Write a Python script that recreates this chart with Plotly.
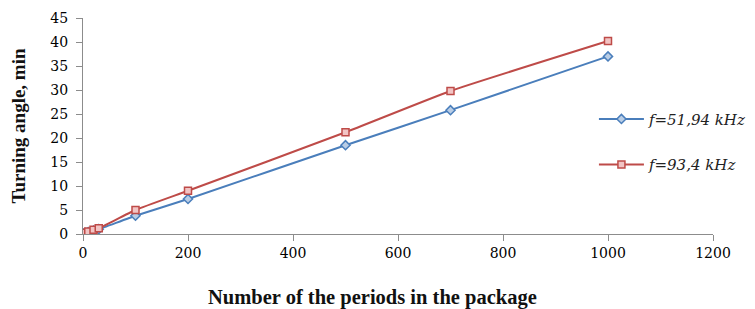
import plotly.graph_objects as go

periods = [1, 2, 5, 10, 20, 30, 100, 200, 500, 700, 1000]
angle_51 = [0.05, 0.1, 0.2, 0.4, 0.7, 1.0, 3.8, 7.3, 18.5, 25.8, 37.0]
angle_93 = [0.05, 0.1, 0.25, 0.5, 0.9, 1.2, 5.0, 9.0, 21.2, 29.8, 40.2]
name_51 = "f=51,94 kHz"
name_93 = "f=93,4 kHz"
x_ticks = [0, 200, 400, 600, 800, 1000, 1200]
y_ticks = [0, 5, 10, 15, 20, 25, 30, 35, 40, 45]

fig = go.Figure()
fig.add_trace(go.Scatter(
    x=periods, y=angle_51, name=name_51, mode="lines+markers",
    legendgroup="a",
    line=dict(color="#4A7EBB", width=2, shape="spline", smoothing=0.4),
    marker=dict(symbol="diamond", size=7, color="#B9CDE5",
                line=dict(color="#4A7EBB", width=1.5)),
))
fig.add_trace(go.Scatter(
    x=periods, y=angle_93, name=name_93, mode="lines+markers",
    legendgroup="b",
    line=dict(color="#BE4B48", width=2, shape="spline", smoothing=0.4),
    marker=dict(symbol="square", size=7, color="#F2C4C4",
                line=dict(color="#BE4B48", width=1.5)),
))

axis_common = dict(
    showgrid=False, zeroline=False, showline=True, linecolor="#8C8C8C",
    linewidth=1, ticks="outside", tickcolor="#8C8C8C", ticklen=6,
    automargin=False,
    tickfont=dict(family="DejaVu Serif", size=14, color="#000"),
)

fig.update_layout(
    width=755, height=309,
    margin=dict(l=75, r=50, t=10, b=83, autoexpand=False),
    paper_bgcolor="white", plot_bgcolor="white",
    showlegend=True,
    legend=dict(
        x=0.811, y=0.608, xanchor="left", yanchor="top",
        bgcolor="rgba(0,0,0,0)", itemwidth=45,
        font=dict(family="DejaVu Serif", size=15, color="#222", style="italic"),
        tracegroupgap=23, traceorder="grouped",
    ),
    xaxis=dict(range=[0, 1200], tickvals=x_ticks, **axis_common),
    yaxis=dict(range=[0, 45], tickvals=y_ticks, ticklabelstandoff=5,
               title=dict(text="Turning angle, min", standoff=26,
                          font=dict(family="Liberation Serif", size=19, color="#111", weight="bold")),
               **axis_common),
    annotations=[dict(
        text="Number of the periods in the package", xref="paper", yref="paper",
        x=0.46, y=0, yshift=-63, xanchor="center", yanchor="middle", showarrow=False,
        font=dict(family="Liberation Serif", size=20.5, color="#111", weight="bold"),
    )],
)

fig.write_html("out.html")
